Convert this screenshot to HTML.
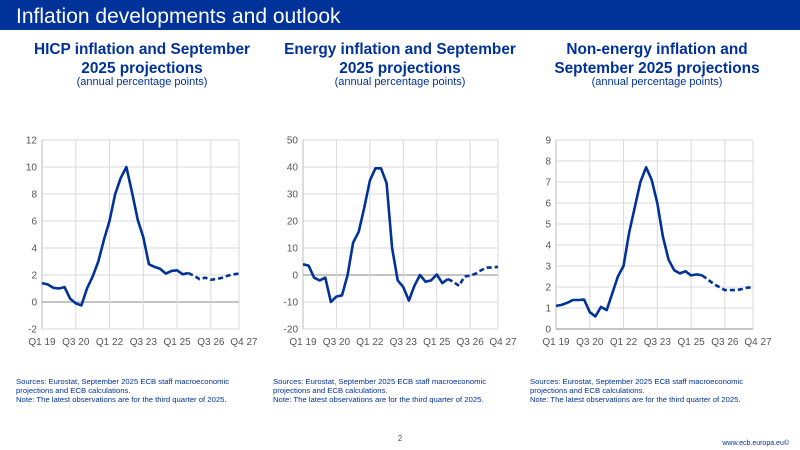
<!DOCTYPE html>
<html><head><meta charset="utf-8"><style>
body{margin:0;width:800px;height:450px;background:#fff;overflow:hidden;font-family:"Liberation Sans",sans-serif}
svg{display:block}
</style></head><body>
<svg id="page" width="800" height="450" xmlns="http://www.w3.org/2000/svg" font-family="Liberation Sans, sans-serif">
<rect x="0" y="0" width="800" height="30" fill="#003299"/>
<text x="16" y="23" font-size="21" fill="#fff">Inflation developments and outlook</text>

<g fill="#003299" font-weight="bold" font-size="15.4" text-anchor="middle">
<text x="142" y="54">HICP inflation and September</text>
<text x="142" y="73">2025 projections</text>
<text x="400" y="54">Energy inflation and September</text>
<text x="400" y="73">2025 projections</text>
<text x="657" y="54">Non-energy inflation and</text>
<text x="657" y="73">September 2025 projections</text>
</g>
<g fill="#003299" font-size="11" text-anchor="middle">
<text x="142" y="85">(annual percentage points)</text>
<text x="400" y="85">(annual percentage points)</text>
<text x="657" y="85">(annual percentage points)</text>
</g>

<g fill="#003299" font-size="7.7">
<text x="16" y="384">Sources: Eurostat, September 2025 ECB staff macroeconomic</text>
<text x="16" y="393">projections and ECB calculations.</text>
<text x="16" y="402">Note: The latest observations are for the third quarter of 2025.</text>
<text x="273" y="384">Sources: Eurostat, September 2025 ECB staff macroeconomic</text>
<text x="273" y="393">projections and ECB calculations.</text>
<text x="273" y="402">Note: The latest observations are for the third quarter of 2025.</text>
<text x="530" y="384">Sources: Eurostat, September 2025 ECB staff macroeconomic</text>
<text x="530" y="393">projections and ECB calculations.</text>
<text x="530" y="402">Note: The latest observations are for the third quarter of 2025.</text>
</g>
<text x="400" y="441" font-size="8" fill="#555" text-anchor="middle">2</text>
<text x="789" y="445" font-size="7" fill="#003299" text-anchor="end">www.ecb.europa.eu©</text>
<g id="charts"></g>
</svg>
<script>
const xTickLabels=["Q1 19","Q3 20","Q1 22","Q3 23","Q1 25","Q3 26","Q4 27"];
const xTickIndex=[0,6,12,18,24,30,35];
const lastObsIndex=26;
const hicpValues=[1.4,1.3,1.05,1.0,1.1,0.25,-0.1,-0.25,1.0,1.9,3.0,4.6,6.0,8.0,9.2,10.0,8.1,6.1,4.8,2.8,2.6,2.45,2.1,2.3,2.35,2.05,2.15,1.95,1.7,1.8,1.65,1.7,1.8,1.95,2.05,2.1];
const energyValues=[4,3.5,-1,-2,-1,-10,-8,-7.5,0,12,16,25,35,39.5,39.5,34,10,-2,-4.5,-9.5,-4,0,-2.5,-2,0.2,-3,-1.5,-2.5,-4,-0.5,-0.3,0.5,1.8,2.7,2.8,3];
const nonEnergyValues=[1.1,1.15,1.25,1.38,1.38,1.4,0.8,0.6,1.05,0.9,1.7,2.5,3.0,4.6,5.8,7.0,7.7,7.1,6.0,4.4,3.3,2.8,2.65,2.75,2.55,2.6,2.55,2.35,2.15,2.0,1.85,1.85,1.85,1.9,1.97,1.97];
const hicpYTicks=[-2,0,2,4,6,8,10,12];
const energyYTicks=[-20,-10,0,10,20,30,40,50];
const nonEnergyYTicks=[0,1,2,3,4,5,6,7,8,9];

const NS="http://www.w3.org/2000/svg";
const root=document.getElementById('charts');
function mk(tag,attrs,parent){const e=document.createElementNS(NS,tag);for(const k in attrs)e.setAttribute(k,attrs[k]);parent.appendChild(e);return e;}
function drawChart(id,x0,x1,values,yTicks){
  const y0=329,y1=140,n=values.length;
  const ymin=yTicks[0],ymax=yTicks[yTicks.length-1];
  const X=i=>x0+(x1-x0)*i/(n-1);
  const Y=v=>y0+(y1-y0)*(v-ymin)/(ymax-ymin);
  const g=mk('g',{},root);
  
  
  yTicks.forEach(t=>{
    const l=mk('line',{x1:x0,x2:x1,y1:Y(t),y2:Y(t),stroke:t===0?'#888':'#d9d9d9','stroke-width':1},g);
    
    
    const tx=mk('text',{x:x0-5,y:Y(t)+3.5,'font-size':10,fill:'#555','text-anchor':'end'},g);
    tx.textContent=t;
    
    
  });
  xTickIndex.forEach((qi,k)=>{
    const l=mk('line',{x1:X(qi),x2:X(qi),y1:y1,y2:y0,stroke:'#d9d9d9','stroke-width':1},g);
    
    
    const last=k===xTickIndex.length-1;
    const tx=mk('text',{x:X(qi)+(last?5:0),y:345,'font-size':10,fill:'#555','text-anchor':'middle'},g);
    tx.textContent=xTickLabels[k];
    
    
  });
  const ax=mk('line',{x1:x0,x2:x0,y1:y1,y2:y0,stroke:'#bbb'},g);
  
  
  let d1='',d2='';
  values.forEach((v,i)=>{ if(i<=lastObsIndex) d1+=(i?'L':'M')+X(i).toFixed(1)+','+Y(v).toFixed(1);
    if(i>=lastObsIndex) d2+=(i===lastObsIndex?'M':'L')+X(i).toFixed(1)+','+Y(v).toFixed(1);});
  const p1=mk('path',{d:d1,fill:'none',stroke:'#003299','stroke-width':2.6,'stroke-linejoin':'round'},g);
  
  
  const p2=mk('path',{d:d2,fill:'none',stroke:'#003299','stroke-width':2.6,'stroke-dasharray':'5,3'},g);
  
  
}
drawChart('hicp',42,239,hicpValues,hicpYTicks);
drawChart('energy',303,498,energyValues,energyYTicks);
drawChart('nonenergy',556,753,nonEnergyValues,nonEnergyYTicks);
</script>
</body></html>
